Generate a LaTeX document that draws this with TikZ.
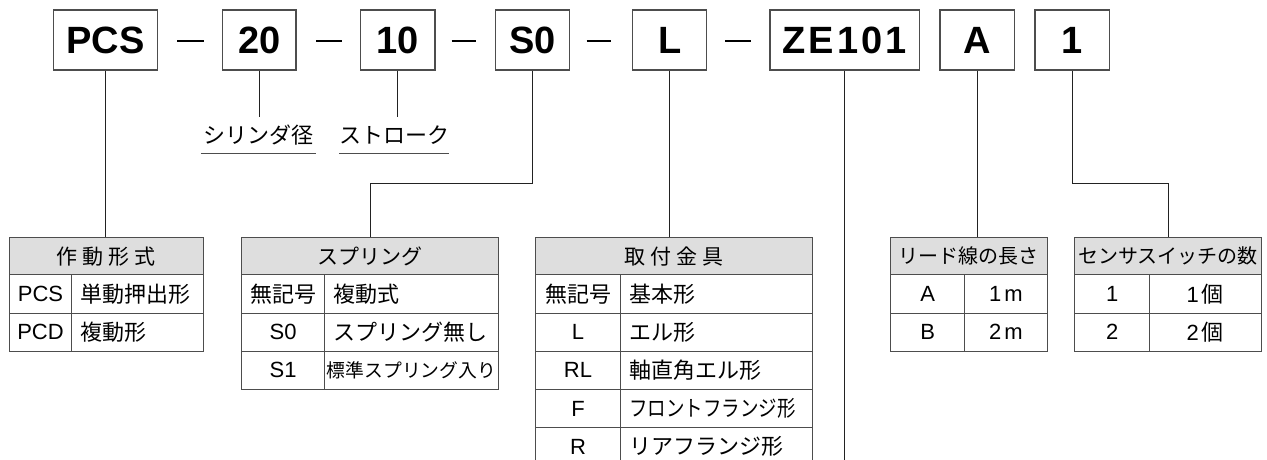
\documentclass[tikz,border=0pt]{standalone}
\usepackage{fontspec}
\setmainfont{Liberation Sans}
\newfontfamily\jp{Noto Sans CJK JP}
\definecolor{lc}{HTML}{4D4D4D}
\definecolor{hf}{HTML}{DEDEDE}
\definecolor{cc}{HTML}{222222}
\begin{document}
\begin{tikzpicture}[x=1pt,y=-1pt,
 pbox/.style={draw=lc, line width=1.3pt, minimum width=#1, minimum height=60pt, inner sep=0pt, font=\fontsize{38}{38}\selectfont\bfseries},
 conn/.style={draw=cc, line width=1pt},
 sepdash/.style={draw=black, line width=2.8pt},
 hdr/.style={draw=lc, line width=1pt, fill=hf, minimum width=#1, minimum height=37pt, inner sep=0pt, anchor=north west, font=\jp\fontsize{21}{21}\selectfont},
 cellc/.style={draw=lc, line width=1pt, minimum width=#1, minimum height=38.2pt, inner sep=0pt, anchor=north west, font=\fontsize{22}{22}\selectfont},
 celll/.style={draw=lc, line width=1pt, text width=#1, align=left, minimum height=38.2pt, inner xsep=9pt, inner ysep=0pt, anchor=north west, font=\jp\fontsize{22}{22}\selectfont},
 lbl/.style={minimum width=#1, minimum height=36pt, inner sep=0pt, anchor=south, font=\jp\fontsize{22}{22}\selectfont},
 uline/.style={draw=lc, line width=1pt},
]
\useasboundingbox (0,0) rectangle (1267,459);
\clip (0,0) rectangle (1267,459);

% part number boxes
\node[pbox=104.4pt] (pcs) at (105.5,40) {PCS};
\node[pbox=73.7pt] (b20) at (259.2,40) {20};
\node[pbox=74.3pt] (b10) at (397.9,40) {10};
\node[pbox=73.6pt] (bs0) at (532.5,40) {S0};
\node[pbox=74pt] (bl) at (669.7,40) {L};
\node[pbox=149.3pt] (bze) at (844.7,40) {Z\kern3pt E\kern3pt 1\kern3pt 0\kern3pt 1};
\node[pbox=74.3pt] (ba) at (977.2,40) {A};
\node[pbox=74.3pt] (bone) at (1072.2,40) {1};

% separators
\draw[sepdash] (177.3,41) -- (204,41);
\draw[sepdash] (316,41) -- (341.7,41);
\draw[sepdash] (451.7,41) -- (476,41);
\draw[sepdash] (586.7,41) -- (611,41);
\draw[sepdash] (725,41) -- (750.7,41);

% labels
\node[lbl=114.7pt] (ldia) at (258.3,153.3) {\raisebox{-3pt}{シリンダ径}};
\node[lbl=103.7pt] (lstr) at (394.2,153.3) {\raisebox{-3pt}{ストローク}};
\draw[uline] (ldia.south west) -- (ldia.south east);
\draw[uline] (lstr.south west) -- (lstr.south east);

% table 1
\node[hdr=193.7pt] (h1) at (9,237.3) {作\kern5pt 動\kern5pt 形\kern5pt 式};
\node[cellc=62pt] (t1a1) at (9,274.3) {PCS};
\node[celll=113.7pt] (t1b1) at (71,274.3) {単動押出形};
\node[cellc=62pt] (t1a2) at (9,312.5) {PCD};
\node[celll=113.7pt] (t1b2) at (71,312.5) {複動形};

% table 2
\node[hdr=257.3pt] (h2) at (241,237.3) {スプリング};
\node[cellc=83.3pt] (t2a1) at (241,274.3) {\jp 無記号};
\node[celll=156pt] (t2b1) at (324.3,274.3) {複動式};
\node[cellc=83.3pt] (t2a2) at (241,312.5) {S0};
\node[celll=156pt] (t2b2) at (324.3,312.5) {スプリング無し};
\node[cellc=83.3pt] (t2a3) at (241,350.7) {S1};
\node[celll=156pt] (t2b3) at (324.3,350.7) {\hspace*{-7pt}\fontsize{18.8}{18.8}\selectfont 標準スプリング入り};

% table 3
\node[hdr=276.7pt] (h3) at (535,237.3) {取\kern5pt 付\kern5pt 金\kern5pt 具};
\node[cellc=85pt] (t3a1) at (535,274.3) {\jp 無記号};
\node[celll=173.7pt] (t3b1) at (620,274.3) {基本形};
\node[cellc=85pt] (t3a2) at (535,312.5) {L};
\node[celll=173.7pt] (t3b2) at (620,312.5) {エル形};
\node[cellc=85pt] (t3a3) at (535,350.7) {RL};
\node[celll=173.7pt] (t3b3) at (620,350.7) {軸直角エル形};
\node[cellc=85pt] (t3a4) at (535,388.9) {F};
\node[celll=173.7pt] (t3b4) at (620,388.9) {\scalebox{0.84}[1]{フロントフランジ形}};
\node[cellc=85pt] (t3a5) at (535,427.1) {R};
\node[celll=173.7pt] (t3b5) at (620,427.1) {リアフランジ形};

% table 4
\node[hdr=156.7pt, font=\jp\fontsize{20}{20}\selectfont] (h4) at (890,237.3) {リード線の長さ};
\node[cellc=74.3pt] (t4a1) at (890,274.3) {A};
\node[cellc=82.4pt] (t4b1) at (964.3,274.3) {1\kern3pt m};
\node[cellc=74.3pt] (t4a2) at (890,312.5) {B};
\node[cellc=82.4pt] (t4b2) at (964.3,312.5) {2\kern3pt m};

% table 5
\node[hdr=186.4pt, font=\jp\fontsize{20}{20}\selectfont] (h5) at (1074.3,237.3) {センサスイッチの数};
\node[cellc=74.7pt] (t5a1) at (1074.3,274.3) {1};
\node[cellc=111.7pt] (t5b1) at (1149,274.3) {1\kern3pt{\jp 個}};
\node[cellc=74.7pt] (t5a2) at (1074.3,312.5) {2};
\node[cellc=111.7pt] (t5b2) at (1149,312.5) {2\kern3pt{\jp 個}};

% connectors
\coordinate (kink) at (0,183.3);
\coordinate (bottom) at (0,470);
\draw[conn] (pcs.south) -- (pcs.south |- h1.north);
\draw[conn] (b20.south) -- (b20.south |- ldia.north);
\draw[conn] (b10.south) -- (b10.south |- lstr.north);
\draw[conn] (bs0.south) -- (bs0.south |- kink) -| (h2.north);
\draw[conn] (bl.south) -- (bl.south |- h3.north);
\draw[conn] (bze.south) -- (bze.south |- bottom);
\draw[conn] (ba.south) -- (ba.south |- h4.north);
\draw[conn] (bone.south) -- (bone.south |- kink) -| (h5.north);
\end{tikzpicture}
\end{document}
